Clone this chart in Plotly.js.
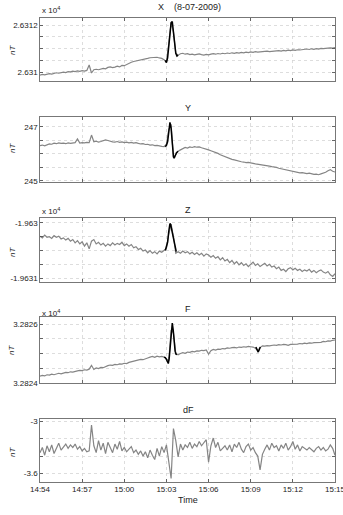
<!DOCTYPE html>
<html>
<head>
<meta charset="utf-8">
<script src="https://cdn.plot.ly/plotly-3.0.1.min.js"></script>
<style>html,body{margin:0;padding:0;background:#fff;}#chart{width:343px;height:515px;}</style>
</head>
<body>
<div id="chart"></div>
<script>
// seconds after 14:54:00 on 2009-07-08
const tGray = [0,10,20,30,40,50,60,70,80,90,100,110,120,130,140,150,160,170,180,190,200,210,220,230,240,250,260,270,280,290,300,310,320,330,340,350,360,370,380,390,400,410,420,430,440,450,460,470,480,490,500,510,520,530,540,550,560,570,580,590,600,610,620,630,640,650,660,670,680,690,700,710,720,730,740,750,760,770,780,790,800,810,820,830,840,850,860,870,880,890,900,910,920,930,940,950,960,970,980,990,1000,1010,1020,1030,1040,1050,1060,1070,1080,1090,1100,1110,1120,1130,1140,1150,1160,1170,1180,1190,1200,1210,1220,1230,1240,1250,1260];

const xVals = [26309.87,26309.90,26309.88,26309.92,26309.93,26309.91,26309.95,26309.97,26309.95,26309.98,26310.00,26309.98,26310.02,26310.01,26310.04,26310.02,26310.05,26310.03,26310.06,26310.04,26310.07,26310.30,26309.96,26310.10,26310.12,26310.10,26310.14,26310.16,26310.14,26310.20,26310.22,26310.19,26310.21,26310.25,26310.22,26310.28,26310.27,26310.33,26310.38,26310.42,26310.45,26310.47,26310.50,26310.49,26310.54,26310.56,26310.58,26310.61,26310.62,26310.60,26310.63,26310.60,26310.58,26310.52,26310.42,26311.20,26312.10,26311.70,26310.80,26310.72,26310.78,26310.80,26310.76,26310.78,26310.74,26310.76,26310.73,26310.75,26310.77,26310.74,26310.72,26310.75,26310.73,26310.76,26310.78,26310.76,26310.79,26310.77,26310.80,26310.78,26310.81,26310.79,26310.82,26310.80,26310.83,26310.81,26310.84,26310.82,26310.85,26310.83,26310.86,26310.84,26310.87,26310.85,26310.86,26310.88,26310.86,26310.89,26310.87,26310.88,26310.90,26310.88,26310.91,26310.89,26310.92,26310.90,26310.93,26310.91,26310.94,26310.92,26310.95,26310.94,26310.96,26310.95,26310.98,26310.96,26310.99,26310.97,26311.00,26310.98,26311.01,26311.00,26311.02,26311.01,26311.03,26311.02,26311.04];

const yVals = [246.31,246.33,246.30,246.35,246.37,246.36,246.40,246.38,246.41,246.39,246.40,246.38,246.41,246.39,246.40,246.42,246.56,246.40,246.42,246.41,246.43,246.42,246.70,246.45,246.47,246.44,246.46,246.48,246.52,246.50,246.47,246.45,246.44,246.46,246.43,246.45,246.42,246.44,246.41,246.43,246.40,246.42,246.39,246.37,246.38,246.35,246.36,246.33,246.34,246.31,246.32,246.29,246.28,246.27,246.36,246.90,247.10,245.85,245.98,246.10,246.15,246.20,246.24,246.22,246.26,246.24,246.27,246.25,246.26,246.23,246.21,246.18,246.15,246.12,246.09,246.05,246.02,245.97,245.93,245.89,245.86,245.83,245.80,245.78,245.75,245.74,245.71,245.70,245.68,245.69,245.66,245.65,245.63,245.62,245.60,245.59,245.57,245.56,245.55,245.53,245.52,245.50,245.47,245.45,245.43,245.41,245.39,245.38,245.36,245.35,245.33,245.30,245.31,245.28,245.27,245.29,245.26,245.24,245.25,245.23,245.26,245.28,245.32,245.38,245.42,245.36,245.33];

const zVals = [-19630.24,-19630.27,-19630.22,-19630.26,-19630.25,-19630.28,-19630.23,-19630.26,-19630.24,-19630.29,-19630.27,-19630.31,-19630.28,-19630.33,-19630.30,-19630.36,-19630.32,-19630.38,-19630.34,-19630.42,-19630.36,-19630.47,-19630.33,-19630.30,-19630.38,-19630.35,-19630.40,-19630.37,-19630.42,-19630.38,-19630.41,-19630.36,-19630.40,-19630.37,-19630.39,-19630.35,-19630.41,-19630.38,-19630.42,-19630.39,-19630.45,-19630.43,-19630.48,-19630.46,-19630.51,-19630.49,-19630.54,-19630.50,-19630.55,-19630.52,-19630.56,-19630.51,-19630.53,-19630.50,-19630.46,-19630.20,-19630.02,-19630.25,-19630.55,-19630.52,-19630.55,-19630.51,-19630.54,-19630.52,-19630.56,-19630.53,-19630.57,-19630.54,-19630.58,-19630.55,-19630.60,-19630.56,-19630.58,-19630.62,-19630.59,-19630.64,-19630.61,-19630.67,-19630.63,-19630.69,-19630.66,-19630.72,-19630.68,-19630.74,-19630.70,-19630.76,-19630.72,-19630.77,-19630.74,-19630.79,-19630.75,-19630.71,-19630.77,-19630.74,-19630.79,-19630.76,-19630.73,-19630.78,-19630.75,-19630.80,-19630.78,-19630.83,-19630.80,-19630.86,-19630.84,-19630.88,-19630.83,-19630.81,-19630.85,-19630.82,-19630.86,-19630.84,-19630.88,-19630.85,-19630.87,-19630.84,-19630.89,-19630.86,-19630.90,-19630.87,-19630.85,-19630.89,-19630.91,-19630.88,-19630.94,-19630.97,-19630.92];

const fVals = [32824.23,32824.26,32824.24,32824.28,32824.27,32824.30,32824.28,32824.31,32824.33,32824.31,32824.34,32824.36,32824.35,32824.38,32824.37,32824.40,32824.41,32824.43,32824.42,32824.45,32824.44,32824.47,32824.60,32824.46,32824.51,32824.49,32824.53,32824.52,32824.56,32824.59,32824.61,32824.60,32824.63,32824.62,32824.65,32824.64,32824.67,32824.66,32824.70,32824.72,32824.74,32824.75,32824.78,32824.80,32824.79,32824.83,32824.85,32824.88,32824.90,32824.87,32824.91,32824.89,32824.90,32824.88,32824.80,32824.75,32825.80,32825.70,32825.00,32824.96,32825.00,32825.03,32825.01,32825.05,32825.04,32825.07,32825.06,32825.09,32825.08,32825.11,32825.10,32825.12,32824.98,32825.10,32825.14,32825.12,32825.15,32825.14,32825.17,32825.16,32825.19,32825.18,32825.20,32825.21,32825.19,32825.22,32825.21,32825.23,32825.22,32825.24,32825.23,32825.22,32825.18,32825.10,32825.20,32825.26,32825.25,32825.27,32825.26,32825.28,32825.29,32825.28,32825.30,32825.29,32825.31,32825.30,32825.28,32825.31,32825.31,32825.33,32825.32,32825.34,32825.33,32825.35,32825.34,32825.36,32825.35,32825.37,32825.37,32825.39,32825.38,32825.41,32825.40,32825.43,32825.42,32825.45,32825.46];

const dfVals = [-3.36,-3.30,-3.39,-3.28,-3.35,-3.27,-3.37,-3.31,-3.25,-3.33,-3.29,-3.26,-3.31,-3.27,-3.30,-3.26,-3.32,-3.29,-3.34,-3.31,-3.35,-3.34,-3.04,-3.28,-3.36,-3.22,-3.33,-3.25,-3.37,-3.24,-3.30,-3.36,-3.26,-3.32,-3.23,-3.34,-3.30,-3.35,-3.32,-3.29,-3.36,-3.33,-3.38,-3.34,-3.40,-3.35,-3.42,-3.33,-3.39,-3.44,-3.31,-3.40,-3.29,-3.36,-3.27,-3.45,-3.66,-3.08,-3.22,-3.41,-3.26,-3.33,-3.27,-3.30,-3.24,-3.31,-3.26,-3.29,-3.23,-3.28,-3.25,-3.21,-3.47,-3.28,-3.19,-3.30,-3.24,-3.34,-3.31,-3.28,-3.33,-3.27,-3.35,-3.26,-3.30,-3.24,-3.32,-3.36,-3.29,-3.26,-3.33,-3.30,-3.36,-3.40,-3.56,-3.38,-3.32,-3.27,-3.33,-3.25,-3.30,-3.28,-3.34,-3.27,-3.31,-3.25,-3.33,-3.29,-3.23,-3.32,-3.27,-3.34,-3.29,-3.31,-3.33,-3.30,-3.32,-3.35,-3.31,-3.29,-3.33,-3.30,-3.34,-3.32,-3.27,-3.31,-3.39];

// highlighted (black) event segments
const tXev = [535,540,545,550,555,560,565,570,575,580,585,590];
const xEv  = [26310.50,26310.40,26310.60,26311.20,26311.80,26312.10,26312.15,26311.70,26311.10,26310.80,26310.68,26310.72];
const tYev = [535,540,545,550,555,560,565,570,573,578,583,590];
const yEv  = [246.27,246.32,246.45,246.85,247.17,246.95,246.30,245.90,245.84,245.95,246.05,246.10];
const tZev = [535,540,545,550,555,558,562,566,570,574,578,582];
const zEv  = [-19630.50,-19630.44,-19630.35,-19630.15,-19630.01,-19630.03,-19630.12,-19630.22,-19630.28,-19630.38,-19630.45,-19630.52];
const tFev = [530,535,540,545,548,552,556,560,565,569,573,577,581,585];
const fEv  = [32824.88,32824.86,32824.80,32824.70,32824.66,32824.85,32825.30,32825.80,32826.03,32825.80,32825.35,32825.08,32824.98,32824.97];
const tFev2 = [922,928,932,936,941];
const fEv2  = [32825.22,32825.13,32825.05,32825.12,32825.22];

const timeTicks = ['14:54','14:57','15:00','15:03','15:06','15:09','15:12','15:15'];

// labelled y ticks and the extra (unlabelled) grid levels
const xTickVals = [26310,26312];   const xTickText = ['2.631','2.6312'];   const xGrid = [26310.5,26311,26311.5];
const yTickVals = [245,247];       const yTickText = ['245','247'];        const yGrid = [245.5,246,246.5];
const zTickVals = [-19631,-19630]; const zTickText = ['-1.9631','-1.963']; const zGrid = [-19630.75,-19630.5,-19630.25];
const fTickVals = [32824,32826];   const fTickText = ['3.2824','3.2826'];  const fGrid = [32824.5,32825,32825.5];
const dfTickVals = [-3.6,-3];      const dfTickText = ['-3.6','-3'];       const dfGrid = [-3.4,-3.2];

function toTime(s){
  const base = Date.UTC(2009,6,8,14,54,0);
  const d = new Date(base + s*1000);
  const p = n => String(n).padStart(2,'0');
  return '2009-07-08 ' + p(d.getUTCHours()) + ':' + p(d.getUTCMinutes()) + ':' + p(d.getUTCSeconds());
}

const GRAY = '#858585';
const traces = [];
function addLine(t, v, ax, color, w){
  traces.push({x: t.map(toTime), y: v, xaxis: 'x'+ax, yaxis: 'y'+ax, type: 'scatter', mode: 'lines',
    line: {color: color, width: w}, hoverinfo: 'skip', showlegend: false});
}
addLine(tGray, xVals, '', GRAY, 1.2);
addLine(tXev, xEv, '', '#000', 1.5);
addLine(tGray, yVals, '2', GRAY, 1.2);
addLine(tYev, yEv, '2', '#000', 1.5);
addLine(tGray, zVals, '3', GRAY, 1.2);
addLine(tZev, zEv, '3', '#000', 1.5);
addLine(tGray, fVals, '4', GRAY, 1.2);
addLine(tFev, fEv, '4', '#000', 1.5);
addLine(tFev2, fEv2, '4', '#000', 1.5);
addLine(tGray, dfVals, '5', GRAY, 1.2);

// layout geometry in pixels
const L = 40, R = 335, T = 18, B = 482;
const px2x = px => (px - L) / (R - L);
const py2y = py => (B - py) / (B - T);
const panels = [[18,81],[117,182],[218,282],[317,383],[419,482]];

const FONT = {family: 'Liberation Sans, Arial, sans-serif', size: 8, color: '#222'};
const GRIDC = '#d4d4d4';

function xAxis(i, showLabels){
  return {
    type: 'date', domain: [0,1], anchor: i===0 ? 'y' : 'y'+(i+1),
    range: [toTime(0), toTime(1260)],
    tickvals: timeTicks.map(s => '2009-07-08 ' + s + ':00'),
    ticktext: timeTicks, showticklabels: showLabels, ticklabeloverflow: 'allow',
    ticks: 'inside', ticklen: 3, tickcolor: '#444', tickwidth: 0.8,
    showgrid: true, gridcolor: GRIDC, griddash: 'dot', gridwidth: 0.8,
    showline: true, linecolor: '#555', linewidth: 0.8, mirror: 'allticks',
    zeroline: false, tickfont: FONT, fixedrange: true
  };
}
function yAxis(i, range, vals, text, grid){
  const d = panels[i];
  return {
    domain: [py2y(d[1]), py2y(d[0])], anchor: i===0 ? 'x' : 'x'+(i+1),
    range: range, tickmode: 'array', tickvals: vals, ticktext: text,
    ticks: 'inside', ticklen: 3, tickcolor: '#444', tickwidth: 0.8,
    showgrid: true, gridcolor: GRIDC, griddash: 'dot', gridwidth: 0.8,
    minor: {tickmode: 'array', tickvals: grid, ticks: 'inside', ticklen: 3, tickcolor: '#444',
            showgrid: true, gridcolor: GRIDC, griddash: 'dot', gridwidth: 0.8},
    showline: true, linecolor: '#555', linewidth: 0.8, mirror: 'allticks',
    zeroline: false, tickfont: FONT, fixedrange: true
  };
}

const layout = {
  width: 343, height: 515,
  margin: {l: L, r: 343 - R, t: T, b: 515 - B},
  paper_bgcolor: '#fff', plot_bgcolor: '#fff',
  font: FONT, showlegend: false,
  xaxis: xAxis(0,false), xaxis2: xAxis(1,false), xaxis3: xAxis(2,false), xaxis4: xAxis(3,false), xaxis5: xAxis(4,true),
  yaxis: yAxis(0, [26309.62, 26312.3], xTickVals, xTickText, xGrid),
  yaxis2: yAxis(1, [244.96, 247.37], yTickVals, yTickText, yGrid),
  yaxis3: yAxis(2, [-19631.07, -19629.91], zTickVals, zTickText, zGrid),
  yaxis4: yAxis(3, [32824.0, 32826.24], fTickVals, fTickText, fGrid),
  yaxis5: yAxis(4, [-3.701, -2.969], dfTickVals, dfTickText, dfGrid),
  annotations: []
};

function ann(text, px, py, opts){
  layout.annotations.push(Object.assign({
    text: text, x: px2x(px), y: py2y(py), xref: 'paper', yref: 'paper',
    showarrow: false, xanchor: 'center', yanchor: 'middle', font: FONT
  }, opts || {}));
}
const TF = {family: 'Liberation Sans, Arial, sans-serif', size: 9, color: '#222'};
ann('X\u00a0\u00a0\u00a0\u00a0(8-07-2009)', 189, 7, {font: TF});
ann('Y', 188, 108, {font: TF});
ann('Z', 188, 210, {font: TF});
ann('F', 188, 309, {font: TF});
ann('dF', 188, 410, {font: TF});
ann('Time', 188, 500, {font: TF});
ann('x 10<sup>4</sup>', 40, 10, {xanchor: 'left'});
ann('x 10<sup>4</sup>', 40, 211, {xanchor: 'left'});
ann('x 10<sup>4</sup>', 40, 313, {xanchor: 'left'});
const NT = {family: 'Liberation Sans, Arial, sans-serif', size: 8, color: '#222'};
[50,148,252,350,452].forEach(py => ann('<i>nT</i>', 12, py, {textangle: -90, font: NT}));

Plotly.newPlot('chart', traces, layout, {staticPlot: true, displayModeBar: false});
</script>
</body>
</html>
